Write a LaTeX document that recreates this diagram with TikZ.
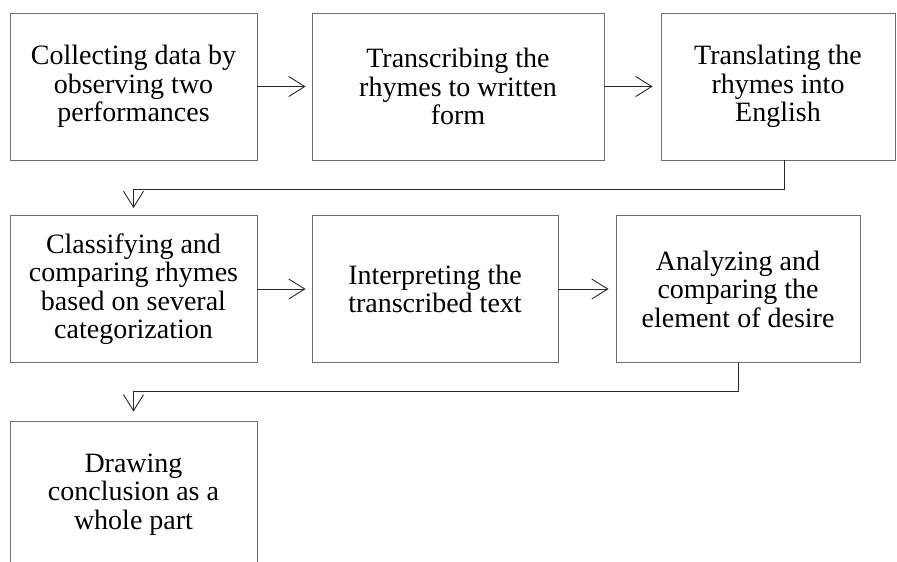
\documentclass[tikz,border=0pt]{standalone}
\usepackage{fontspec}
\setmainfont{Liberation Serif}
\usetikzlibrary{arrows.meta}
\definecolor{boxgray}{RGB}{110,110,110}
\definecolor{linegray}{RGB}{40,40,40}
\begin{document}
\begin{tikzpicture}[x=1pt,y=1pt,
  stepbox/.style={draw=boxgray, line width=0.9pt, minimum height=147pt, align=center,
    inner sep=0pt, font=\fontsize{28}{28.5}\selectfont},
  conn/.style={draw=linegray, line width=0.9pt, -{Straight Barb[length=16pt,width=20pt]}}]
\useasboundingbox (0,0) rectangle (897,-562);
\clip (0,0) rectangle (897,-562);
\node[stepbox, minimum width=247pt] (b1) at (133.5,-86.5) {Collecting data by\\observing two\\performances};
\node[stepbox, minimum width=292pt] (b2) at (458,-86.5) {Transcribing the\\rhymes to written\\form};
\node[stepbox, minimum width=234pt] (b3) at (778,-86.5) {Translating the\\rhymes into\\English};
\node[stepbox, minimum width=247pt] (b4) at (133.5,-289) {Classifying and\\comparing rhymes\\based on several\\categorization};
\node[stepbox, minimum width=246pt] (b5) at (435,-289) {Interpreting the\\transcribed text};
\node[stepbox, minimum width=244pt] (b6) at (738,-289) {Analyzing and\\comparing the\\element of desire};
\node[stepbox, minimum width=247pt] (b7) at (133.5,-494.5) {Drawing\\conclusion as a\\whole part};
\draw[conn, shorten >=6pt] (b1) -- (b2);
\draw[conn, shorten >=8pt] (b2) -- (b3);
\draw[conn, shorten >=6pt] (b4) -- (b5);
\draw[conn, shorten >=7pt] (b5) -- (b6);
\draw[conn, shorten >=7pt] ([xshift=6pt]b3.south) -- ++(0,-28.7) -| (b4.north);
\draw[conn, shorten >=9pt] (b6.south) -- ++(0,-28.7) -| (b7.north);
\end{tikzpicture}
\end{document}
